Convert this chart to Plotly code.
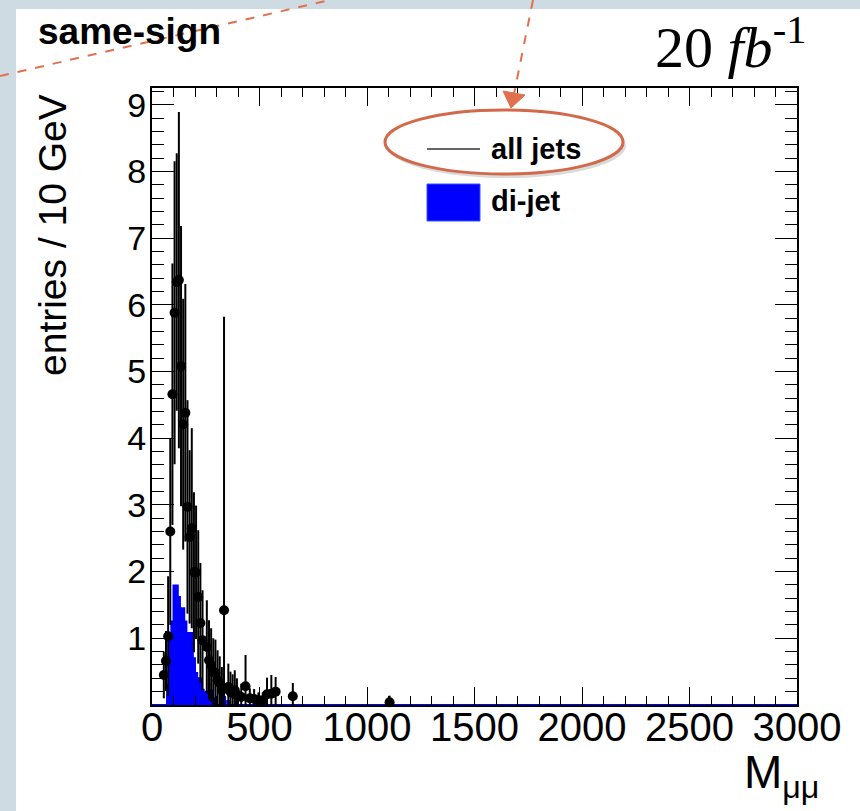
import plotly.graph_objects as go

# ---------------- data ----------------
# di-jet histogram, 10 GeV bins: bin lower edges and contents (last edge closes the range)
dijet_edges = [0, 70, 80, 90, 100, 110, 120, 130, 140, 150, 160, 170, 180, 190,
               200, 210, 220, 230, 240, 250, 260, 270, 280, 290, 300, 310, 320, 330,
               340, 350, 360, 390, 400, 510, 520, 3000]
dijet_counts = [0, 0.3, 1.0, 1.25, 1.79, 1.79, 1.62, 1.45, 1.45, 1.25, 1.08, 1.08,
                1.08, 0.7, 0.48, 0.4, 0.4, 0.23, 0.18, 0.2, 0.2, 0.22, 0.1, 0.05, 0.0,
                0.0, 0.3, 0.12, 0.0, 0.06, 0.0, 0.05, 0.0, 0.05, 0.0]

# all jets: bin centres, entries, errors
alljets_mass = [55, 65, 75, 85, 95, 105, 115, 125, 135, 145, 155, 165, 175, 185, 195,
                205, 215, 225, 235, 255, 265, 275, 285, 295, 305, 315, 325, 335, 355,
                365, 375, 385, 395, 415, 435, 455, 475, 495, 515, 535, 555, 575, 655, 1105]
alljets_entries = [0.45, 0.66, 1.03, 2.60, 4.66, 5.88, 6.34, 6.37, 5.08, 4.21, 4.38, 2.97,
                   2.52, 2.65, 1.99, 1.99, 1.62, 1.23, 0.97, 0.87, 0.67, 0.60, 0.50, 0.48,
                   0.37, 0.33, 0.22, 1.42, 0.27, 0.20, 0.18, 0.22, 0.15, 0.12, 0.28, 0.10,
                   0.09, 0.07, 0.07, 0.16, 0.17, 0.20, 0.13, 0.04]
alljets_err = [0.35, 0.45, 0.90, 1.40, 1.96, 2.27, 1.93, 2.52, 2.10, 1.88, 1.93, 1.60,
               1.30, 1.50, 1.20, 1.00, 1.00, 0.90, 0.75, 0.70, 0.60, 0.55, 0.50, 0.50,
               0.45, 0.40, 0.35, 4.40, 0.35, 0.30, 0.28, 0.30, 0.25, 0.20, 0.47, 0.15,
               0.15, 0.12, 0.12, 0.25, 0.28, 0.22, 0.20, 0.10]

x_ticks = [0, 500, 1000, 1500, 2000, 2500, 3000]
y_ticks = [1, 2, 3, 4, 5, 6, 7, 8, 9]

# ---------------- layout geometry ----------------
W, H = 860, 811
L, R, T, B = 152, 797, 88, 705


def xp(px):
    return (px - L) / (R - L)


def yp(py):
    return (B - py) / (B - T)


fig = go.Figure()

fig.add_trace(go.Scatter(
    x=dijet_edges, y=dijet_counts + [dijet_counts[-1]],
    mode="lines", line=dict(shape="hv", color="#0000ff", width=2),
    fill="tozeroy", fillcolor="#0000ff", hoverinfo="skip", showlegend=False,
))

err_minus = [min(e, v) for e, v in zip(alljets_err, alljets_entries)]
fig.add_trace(go.Scatter(
    x=alljets_mass, y=alljets_entries, mode="markers",
    marker=dict(symbol="circle", size=10, color="black"),
    error_y=dict(type="data", array=alljets_err, arrayminus=err_minus,
                 color="black", thickness=2, width=0),
    cliponaxis=False, showlegend=False,
))

FONT = "Liberation Sans, Arial, Helvetica, sans-serif"
ORANGE = "#e0714f"

shapes = [
    # slide background strips
    dict(type="rect", xref="paper", yref="paper", x0=xp(0), x1=xp(16), y0=yp(811), y1=yp(0),
         fillcolor="#cfdbe2", line=dict(width=0), layer="below"),
    dict(type="rect", xref="paper", yref="paper", x0=xp(0), x1=xp(860), y0=yp(9), y1=yp(0),
         fillcolor="#cfdbe2", line=dict(width=0), layer="below"),
    # dashed call-out lines
    dict(type="line", xref="paper", yref="paper", x0=xp(0), y0=yp(76), x1=xp(330), y1=yp(0),
         line=dict(color=ORANGE, width=2, dash="dash")),
    dict(type="line", xref="paper", yref="paper", x0=xp(533), y0=yp(0), x1=xp(514), y1=yp(94),
         line=dict(color=ORANGE, width=2, dash="dash")),
    dict(type="path", xref="paper", yref="paper",
         path=f"M {xp(503)},{yp(91)} L {xp(525)},{yp(95)} L {xp(511)},{yp(108)} Z",
         fillcolor=ORANGE, line=dict(color=ORANGE, width=1)),
    # ellipse shadow and ellipse
    dict(type="circle", xref="paper", yref="paper", x0=xp(387), x1=xp(626), y0=yp(178), y1=yp(113),
         fillcolor="rgba(150,150,150,0.35)", line=dict(width=0)),
    dict(type="circle", xref="paper", yref="paper", x0=xp(385), x1=xp(623), y0=yp(174), y1=yp(110),
         fillcolor="white", line=dict(color="#d2694a", width=3)),
    # legend symbols
    dict(type="line", xref="paper", yref="paper", x0=xp(427), x1=xp(480), y0=yp(149), y1=yp(149),
         line=dict(color="#333333", width=1.5)),
    dict(type="rect", xref="paper", yref="paper", x0=xp(427), x1=xp(480), y0=yp(221), y1=yp(184),
         fillcolor="#0000ff", line=dict(color="#3355ff", width=1)),
]

annotations = [
    dict(text="<b>all jets</b>", xref="paper", yref="paper", x=xp(489), y=yp(149),
         xanchor="left", yanchor="middle", showarrow=False,
         font=dict(family=FONT, size=29, color="black")),
    dict(text="<b>di-jet</b>", xref="paper", yref="paper", x=xp(489), y=yp(201),
         xanchor="left", yanchor="middle", showarrow=False,
         font=dict(family=FONT, size=29, color="black")),
    dict(text="<b>same-sign</b>", xref="paper", yref="paper", x=xp(36), y=yp(31),
         xanchor="left", yanchor="middle", showarrow=False,
         font=dict(family=FONT, size=37, color="black")),
    dict(text="20 <i>fb</i><sup>-1</sup>", xref="paper", yref="paper", x=xp(808), y=yp(43),
         xanchor="right", yanchor="middle", showarrow=False,
         font=dict(family="Liberation Serif, Times New Roman, serif", size=58, color="black")),
    dict(text="entries / 10 GeV", xref="paper", yref="paper", x=xp(52), y=yp(235),
         xanchor="center", yanchor="middle", textangle=-90, showarrow=False,
         font=dict(family=FONT, size=39, color="black")),
    dict(text="M<sub>μμ</sub>", xref="paper", yref="paper", x=xp(821), y=yp(775),
         xanchor="right", yanchor="middle", showarrow=False,
         font=dict(family=FONT, size=46, color="black")),
]

fig.update_layout(
    width=W, height=H,
    margin=dict(l=L, r=W - R, t=T, b=H - B),
    paper_bgcolor="white", plot_bgcolor="white",
    shapes=shapes, annotations=annotations, showlegend=False,
    xaxis=dict(range=[0, 3000], tickvals=x_ticks, ticktext=[str(v) for v in x_ticks],
               ticks="inside", ticklen=18, tickwidth=1.3, tickcolor="black",
               minor=dict(ticks="inside", ticklen=9, dtick=100, tickwidth=1.3, tickcolor="black"),
               showline=True, linewidth=2, linecolor="black", mirror="allticks",
               showgrid=False, zeroline=False, ticklabelstandoff=-14,
               tickfont=dict(family=FONT, size=40, color="black")),
    yaxis=dict(range=[0, 9.25], tickvals=y_ticks, ticktext=[str(v) for v in y_ticks],
               ticks="inside", ticklen=22, tickwidth=1.3, tickcolor="black",
               minor=dict(ticks="inside", ticklen=12, dtick=0.2, tickwidth=1.3, tickcolor="black"),
               showline=True, linewidth=2, linecolor="black", mirror="allticks",
               showgrid=False, zeroline=False, ticklabelstandoff=-3,
               tickfont=dict(family=FONT, size=34, color="black")),
)

fig.write_html("out.html", config={"displayModeBar": False},
               post_script="document.body.style.margin='0';")
